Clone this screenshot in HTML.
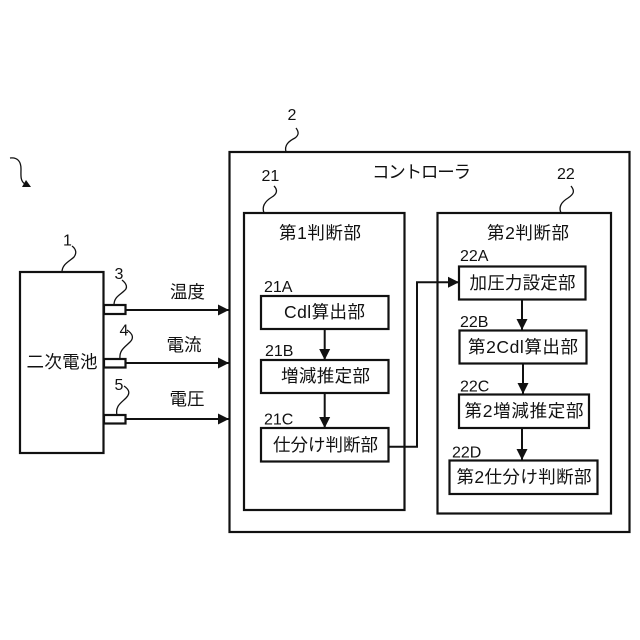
<!DOCTYPE html>
<html lang="ja">
<head>
<meta charset="utf-8">
<style>
html,body{margin:0;padding:0;background:#fff}
svg{display:block}
text{font-family:"Liberation Sans","Noto Sans CJK JP",sans-serif;fill:#111}
.b{fill:#fff;stroke:#111;stroke-width:2.2}
.l{fill:none;stroke:#111;stroke-width:2}
.w{fill:none;stroke:#111;stroke-width:1.3}
.t{font-size:17.5px;text-anchor:middle}
.n{font-size:16px}
</style>
</head>
<body>
<svg width="640" height="640" viewBox="0 0 640 640" xmlns="http://www.w3.org/2000/svg">
<defs>
<marker id="a" markerUnits="userSpaceOnUse" markerWidth="12" markerHeight="12" refX="11" refY="6" orient="auto">
<path d="M0,0.5L11,6L0,11.5Z" fill="#111"/>
</marker>
</defs>

<rect class="b" x="229.5" y="152" width="400" height="380"/>
<rect class="b" x="244" y="213" width="160.5" height="297"/>
<rect class="b" x="437.5" y="213" width="173.5" height="300.5"/>
<rect class="b" x="20" y="272" width="83.5" height="181"/>
<rect class="b" x="104" y="305" width="21.5" height="9"/>
<rect class="b" x="104" y="359" width="21.5" height="8.5"/>
<rect class="b" x="104" y="415" width="21.5" height="8.5"/>

<path class="l" d="M125,310H229" marker-end="url(#a)"/>
<path class="l" d="M125,363H229" marker-end="url(#a)"/>
<path class="l" d="M125,419H229" marker-end="url(#a)"/>

<rect class="b" x="261" y="296" width="127.5" height="33"/>
<rect class="b" x="261" y="360" width="127.5" height="33"/>
<rect class="b" x="261" y="428" width="127.5" height="33.5"/>
<path class="l" d="M324.7,329V360" marker-end="url(#a)"/>
<path class="l" d="M324.7,393V428" marker-end="url(#a)"/>
<path class="l" d="M388,446.7H417V282.3H459" marker-end="url(#a)"/>

<rect class="b" x="459" y="266.5" width="126.5" height="33"/>
<rect class="b" x="459.5" y="330.5" width="127" height="33"/>
<rect class="b" x="459" y="394.5" width="130" height="33.5"/>
<rect class="b" x="449.5" y="460.5" width="148" height="33.5"/>
<path class="l" d="M522,299.5V330" marker-end="url(#a)"/>
<path class="l" d="M523,363.5V394" marker-end="url(#a)"/>
<path class="l" d="M522,428V460" marker-end="url(#a)"/>

<path class="w" d="M10,158C18,157 21,162 21,169C21,175 20,181 25,184"/>
<path d="M22,187L31,187L26,180Z" fill="#111"/>
<path class="w" d="M72,246C76,249 77,253 74,257C70,261 62,264 62,272"/>
<path class="w" d="M122,280C127,284 128,288 124,291C120,295 114,297 114,305"/>
<path class="w" d="M127,330C133,334 134,338 130,342C125,347 119,350 120,359"/>
<path class="w" d="M124,386C130,390 130,394 126,398C121,403 115,406 117,415"/>
<path class="w" d="M296,128C299,132 299,135 295,138C289,141 284,145 286,152"/>
<path class="w" d="M274,186C278,190 277,194 272,197C267,200 261,205 264,213"/>
<path class="w" d="M571,186C575,191 574,194 568,198C563,201 558,206 561,213"/>

<text class="n" x="63" y="245.5">1</text>
<text class="n" x="114.5" y="279">3</text>
<text class="n" x="119.5" y="335.5">4</text>
<text class="n" x="114.5" y="390">5</text>
<text class="n" x="287.5" y="120">2</text>
<text class="n" x="261.5" y="181">21</text>
<text class="n" x="557" y="179">22</text>
<text class="n" x="264" y="292">21A</text>
<text class="n" x="265" y="356">21B</text>
<text class="n" x="264" y="424.5">21C</text>
<text class="n" x="460" y="261">22A</text>
<text class="n" x="460" y="327">22B</text>
<text class="n" x="460" y="391.5">22C</text>
<text class="n" x="452" y="457.5">22D</text>

<text class="t" x="187.5" y="298" textLength="35">温度</text>
<text class="t" x="184" y="351" textLength="35">電流</text>
<text class="t" x="187" y="405" textLength="35">電圧</text>
<text class="t" x="62" y="368" textLength="71">二次電池</text>
<text class="t" x="421.5" y="178" textLength="99">コントローラ</text>
<text class="t" x="320" y="239" textLength="82">第1判断部</text>
<text class="t" x="528" y="239" textLength="82">第2判断部</text>
<text class="t" x="324.5" y="318" textLength="81">Cdl算出部</text>
<text class="t" x="325.5" y="382" textLength="89">増減推定部</text>
<text class="t" x="325.5" y="451" textLength="105">仕分け判断部</text>
<text class="t" x="522.5" y="289" textLength="106">加圧力設定部</text>
<text class="t" x="523" y="353" textLength="110">第2Cdl算出部</text>
<text class="t" x="524" y="417" textLength="119">第2増減推定部</text>
<text class="t" x="524" y="483" textLength="135">第2仕分け判断部</text>
</svg>
</body>
</html>
